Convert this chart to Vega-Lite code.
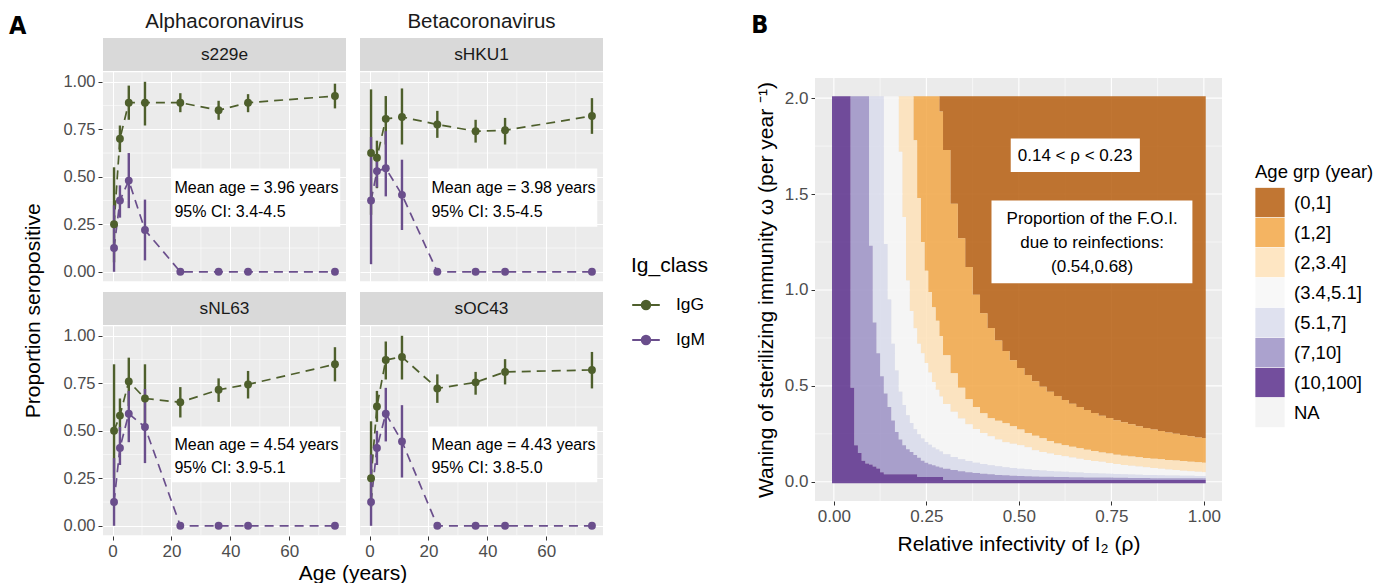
{
"$schema": "https://vega.github.io/schema/vega-lite/v6.json",
"background": "white",
"padding": {"left": 8, "top": 11, "right": 0, "bottom": 0},
"title": {"text": "A", "anchor": "start", "font": "Liberation Sans Narrow, DejaVu Sans Condensed, Liberation Sans", "fontSize": 25, "fontWeight": "bold", "offset": -47, "dx": -14, "baseline": "alphabetic", "color": "#000000"},
"config": {
  "font": "Liberation Sans",
  "view": {"fill": "#ebebeb", "stroke": null},
  "axis": {"domain": false, "gridColor": "#ffffff", "gridWidth": 1.1, "tickColor": "#333333", "tickSize": 4, "tickWidth": 1, "labelColor": "#4d4d4d", "labelFontSize": 16.5, "labelPadding": 3, "titleFontSize": 21, "titleFontWeight": "normal", "titleColor": "#000000"},
  "legend": {"titleFontWeight": "normal", "titleColor": "#000000", "labelColor": "#000000"},
  "title": {"fontWeight": "normal", "color": "#000000"}
},
"datasets": {
  "aset": [
    {"g":"Alphacoronavirus","r":"1","k":"gx","gv":10},{"g":"Alphacoronavirus","r":"1","k":"gx","gv":30},{"g":"Alphacoronavirus","r":"1","k":"gx","gv":50},{"g":"Alphacoronavirus","r":"1","k":"gx","gv":70},
    {"g":"Alphacoronavirus","r":"1","k":"gy","gv":0.125},{"g":"Alphacoronavirus","r":"1","k":"gy","gv":0.375},{"g":"Alphacoronavirus","r":"1","k":"gy","gv":0.625},{"g":"Alphacoronavirus","r":"1","k":"gy","gv":0.875},
    {"g":"Betacoronavirus","r":"1","k":"gx","gv":10},{"g":"Betacoronavirus","r":"1","k":"gx","gv":30},{"g":"Betacoronavirus","r":"1","k":"gx","gv":50},{"g":"Betacoronavirus","r":"1","k":"gx","gv":70},
    {"g":"Betacoronavirus","r":"1","k":"gy","gv":0.125},{"g":"Betacoronavirus","r":"1","k":"gy","gv":0.375},{"g":"Betacoronavirus","r":"1","k":"gy","gv":0.625},{"g":"Betacoronavirus","r":"1","k":"gy","gv":0.875},
    {"g":"Alphacoronavirus","r":"2","k":"gx","gv":10},{"g":"Alphacoronavirus","r":"2","k":"gx","gv":30},{"g":"Alphacoronavirus","r":"2","k":"gx","gv":50},{"g":"Alphacoronavirus","r":"2","k":"gx","gv":70},
    {"g":"Alphacoronavirus","r":"2","k":"gy","gv":0.125},{"g":"Alphacoronavirus","r":"2","k":"gy","gv":0.375},{"g":"Alphacoronavirus","r":"2","k":"gy","gv":0.625},{"g":"Alphacoronavirus","r":"2","k":"gy","gv":0.875},
    {"g":"Betacoronavirus","r":"2","k":"gx","gv":10},{"g":"Betacoronavirus","r":"2","k":"gx","gv":30},{"g":"Betacoronavirus","r":"2","k":"gx","gv":50},{"g":"Betacoronavirus","r":"2","k":"gx","gv":70},
    {"g":"Betacoronavirus","r":"2","k":"gy","gv":0.125},{"g":"Betacoronavirus","r":"2","k":"gy","gv":0.375},{"g":"Betacoronavirus","r":"2","k":"gy","gv":0.625},{"g":"Betacoronavirus","r":"2","k":"gy","gv":0.875},

    {"g":"Alphacoronavirus","r":"1","k":"o","c":"IgG","a":0.5,"p":0.25,"lo":0.05,"hi":0.55},
    {"g":"Alphacoronavirus","r":"1","k":"o","c":"IgG","a":2.5,"p":0.70,"lo":0.63,"hi":0.77},
    {"g":"Alphacoronavirus","r":"1","k":"o","c":"IgG","a":5.5,"p":0.89,"lo":0.80,"hi":0.98},
    {"g":"Alphacoronavirus","r":"1","k":"o","c":"IgG","a":11,"p":0.89,"lo":0.77,"hi":1.0},
    {"g":"Alphacoronavirus","r":"1","k":"o","c":"IgG","a":23,"p":0.89,"lo":0.84,"hi":0.94},
    {"g":"Alphacoronavirus","r":"1","k":"o","c":"IgG","a":36,"p":0.85,"lo":0.80,"hi":0.90},
    {"g":"Alphacoronavirus","r":"1","k":"o","c":"IgG","a":46,"p":0.89,"lo":0.84,"hi":0.935},
    {"g":"Alphacoronavirus","r":"1","k":"o","c":"IgG","a":75.5,"p":0.925,"lo":0.86,"hi":0.99},
    {"g":"Alphacoronavirus","r":"1","k":"o","c":"IgM","a":0.5,"p":0.125,"lo":0,"hi":0.35},
    {"g":"Alphacoronavirus","r":"1","k":"o","c":"IgM","a":2.5,"p":0.375,"lo":0.285,"hi":0.455},
    {"g":"Alphacoronavirus","r":"1","k":"o","c":"IgM","a":5.5,"p":0.48,"lo":0.335,"hi":0.625},
    {"g":"Alphacoronavirus","r":"1","k":"o","c":"IgM","a":11,"p":0.22,"lo":0.06,"hi":0.38},
    {"g":"Alphacoronavirus","r":"1","k":"o","c":"IgM","a":23,"p":0,"lo":0,"hi":0},
    {"g":"Alphacoronavirus","r":"1","k":"o","c":"IgM","a":36,"p":0,"lo":0,"hi":0},
    {"g":"Alphacoronavirus","r":"1","k":"o","c":"IgM","a":46,"p":0,"lo":0,"hi":0},
    {"g":"Alphacoronavirus","r":"1","k":"o","c":"IgM","a":75.5,"p":0,"lo":0,"hi":0},

    {"g":"Betacoronavirus","r":"1","k":"o","c":"IgG","a":0.5,"p":0.625,"lo":0.30,"hi":0.96},
    {"g":"Betacoronavirus","r":"1","k":"o","c":"IgG","a":2.5,"p":0.60,"lo":0.44,"hi":0.69},
    {"g":"Betacoronavirus","r":"1","k":"o","c":"IgG","a":5.5,"p":0.805,"lo":0.67,"hi":0.925},
    {"g":"Betacoronavirus","r":"1","k":"o","c":"IgG","a":11,"p":0.815,"lo":0.67,"hi":0.965},
    {"g":"Betacoronavirus","r":"1","k":"o","c":"IgG","a":23,"p":0.775,"lo":0.705,"hi":0.847},
    {"g":"Betacoronavirus","r":"1","k":"o","c":"IgG","a":36,"p":0.74,"lo":0.68,"hi":0.80},
    {"g":"Betacoronavirus","r":"1","k":"o","c":"IgG","a":46,"p":0.745,"lo":0.67,"hi":0.81},
    {"g":"Betacoronavirus","r":"1","k":"o","c":"IgG","a":75.5,"p":0.82,"lo":0.726,"hi":0.914},
    {"g":"Betacoronavirus","r":"1","k":"o","c":"IgM","a":0.5,"p":0.375,"lo":0.04,"hi":0.71},
    {"g":"Betacoronavirus","r":"1","k":"o","c":"IgM","a":2.5,"p":0.53,"lo":0.444,"hi":0.617},
    {"g":"Betacoronavirus","r":"1","k":"o","c":"IgM","a":5.5,"p":0.545,"lo":0.397,"hi":0.74},
    {"g":"Betacoronavirus","r":"1","k":"o","c":"IgM","a":11,"p":0.405,"lo":0.22,"hi":0.59},
    {"g":"Betacoronavirus","r":"1","k":"o","c":"IgM","a":23,"p":0,"lo":0,"hi":0},
    {"g":"Betacoronavirus","r":"1","k":"o","c":"IgM","a":36,"p":0,"lo":0,"hi":0},
    {"g":"Betacoronavirus","r":"1","k":"o","c":"IgM","a":46,"p":0,"lo":0,"hi":0},
    {"g":"Betacoronavirus","r":"1","k":"o","c":"IgM","a":75.5,"p":0,"lo":0,"hi":0},

    {"g":"Alphacoronavirus","r":"2","k":"o","c":"IgG","a":0.5,"p":0.50,"lo":0.25,"hi":0.85},
    {"g":"Alphacoronavirus","r":"2","k":"o","c":"IgG","a":2.5,"p":0.58,"lo":0.497,"hi":0.67},
    {"g":"Alphacoronavirus","r":"2","k":"o","c":"IgG","a":5.5,"p":0.76,"lo":0.63,"hi":0.885},
    {"g":"Alphacoronavirus","r":"2","k":"o","c":"IgG","a":11,"p":0.67,"lo":0.50,"hi":0.85},
    {"g":"Alphacoronavirus","r":"2","k":"o","c":"IgG","a":23,"p":0.65,"lo":0.57,"hi":0.73},
    {"g":"Alphacoronavirus","r":"2","k":"o","c":"IgG","a":36,"p":0.716,"lo":0.652,"hi":0.776},
    {"g":"Alphacoronavirus","r":"2","k":"o","c":"IgG","a":46,"p":0.744,"lo":0.67,"hi":0.815},
    {"g":"Alphacoronavirus","r":"2","k":"o","c":"IgG","a":75.5,"p":0.85,"lo":0.76,"hi":0.94},
    {"g":"Alphacoronavirus","r":"2","k":"o","c":"IgM","a":0.5,"p":0.125,"lo":0,"hi":0.356},
    {"g":"Alphacoronavirus","r":"2","k":"o","c":"IgM","a":2.5,"p":0.41,"lo":0.32,"hi":0.52},
    {"g":"Alphacoronavirus","r":"2","k":"o","c":"IgM","a":5.5,"p":0.59,"lo":0.44,"hi":0.71},
    {"g":"Alphacoronavirus","r":"2","k":"o","c":"IgM","a":11,"p":0.52,"lo":0.33,"hi":0.72},
    {"g":"Alphacoronavirus","r":"2","k":"o","c":"IgM","a":23,"p":0,"lo":0,"hi":0},
    {"g":"Alphacoronavirus","r":"2","k":"o","c":"IgM","a":36,"p":0,"lo":0,"hi":0},
    {"g":"Alphacoronavirus","r":"2","k":"o","c":"IgM","a":46,"p":0,"lo":0,"hi":0},
    {"g":"Alphacoronavirus","r":"2","k":"o","c":"IgM","a":75.5,"p":0,"lo":0,"hi":0},

    {"g":"Betacoronavirus","r":"2","k":"o","c":"IgG","a":0.5,"p":0.25,"lo":0.10,"hi":0.55},
    {"g":"Betacoronavirus","r":"2","k":"o","c":"IgG","a":2.5,"p":0.628,"lo":0.547,"hi":0.71},
    {"g":"Betacoronavirus","r":"2","k":"o","c":"IgG","a":5.5,"p":0.873,"lo":0.77,"hi":0.97},
    {"g":"Betacoronavirus","r":"2","k":"o","c":"IgG","a":11,"p":0.889,"lo":0.77,"hi":1.0},
    {"g":"Betacoronavirus","r":"2","k":"o","c":"IgG","a":23,"p":0.723,"lo":0.647,"hi":0.797},
    {"g":"Betacoronavirus","r":"2","k":"o","c":"IgG","a":36,"p":0.755,"lo":0.69,"hi":0.81},
    {"g":"Betacoronavirus","r":"2","k":"o","c":"IgG","a":46,"p":0.81,"lo":0.744,"hi":0.877},
    {"g":"Betacoronavirus","r":"2","k":"o","c":"IgG","a":75.5,"p":0.82,"lo":0.723,"hi":0.915},
    {"g":"Betacoronavirus","r":"2","k":"o","c":"IgM","a":0.5,"p":0.125,"lo":0,"hi":0.375},
    {"g":"Betacoronavirus","r":"2","k":"o","c":"IgM","a":2.5,"p":0.41,"lo":0.32,"hi":0.50},
    {"g":"Betacoronavirus","r":"2","k":"o","c":"IgM","a":5.5,"p":0.59,"lo":0.444,"hi":0.726},
    {"g":"Betacoronavirus","r":"2","k":"o","c":"IgM","a":11,"p":0.444,"lo":0.254,"hi":0.635},
    {"g":"Betacoronavirus","r":"2","k":"o","c":"IgM","a":23,"p":0,"lo":0,"hi":0},
    {"g":"Betacoronavirus","r":"2","k":"o","c":"IgM","a":36,"p":0,"lo":0,"hi":0},
    {"g":"Betacoronavirus","r":"2","k":"o","c":"IgM","a":46,"p":0,"lo":0,"hi":0},
    {"g":"Betacoronavirus","r":"2","k":"o","c":"IgM","a":75.5,"p":0,"lo":0,"hi":0},

    {"g":"Alphacoronavirus","r":"1","k":"lab","v":"s229e","x1":20.2,"x2":77.3,"y1":0.237,"y2":0.544,"tx":21,"ty1":0.416,"ty2":0.288,"t1":"Mean age = 3.96 years","t2":"95% CI: 3.4-4.5"},
    {"g":"Betacoronavirus","r":"1","k":"lab","v":"sHKU1","x1":20.2,"x2":77.3,"y1":0.237,"y2":0.544,"tx":21,"ty1":0.416,"ty2":0.288,"t1":"Mean age = 3.98 years","t2":"95% CI: 3.5-4.5"},
    {"g":"Alphacoronavirus","r":"2","k":"lab","v":"sNL63","x1":20.2,"x2":77.3,"y1":0.229,"y2":0.523,"tx":21,"ty1":0.40,"ty2":0.277,"t1":"Mean age = 4.54 years","t2":"95% CI: 3.9-5.1"},
    {"g":"Betacoronavirus","r":"2","k":"lab","v":"sOC43","x1":20.2,"x2":77.3,"y1":0.229,"y2":0.523,"tx":21,"ty1":0.40,"ty2":0.277,"t1":"Mean age = 4.43 years","t2":"95% CI: 3.8-5.0"}
  ],
  "heat": [
    {"r0":-0.005,"f1":2.01,"f2":2.01,"f3":2.01,"f4":2.01,"f5":2.01,"f6":2.01},
    {"r0":0.045,"f1":2.01,"f2":2.01,"f3":2.01,"f4":2.01,"f5":2.01,"f6":0.49},
    {"r0":0.055,"f1":2.01,"f2":2.01,"f3":2.01,"f4":2.01,"f5":2.01,"f6":0.19},
    {"r0":0.065,"f1":2.01,"f2":2.01,"f3":2.01,"f4":2.01,"f5":2.01,"f6":0.15},
    {"r0":0.075,"f1":2.01,"f2":2.01,"f3":2.01,"f4":2.01,"f5":2.01,"f6":0.11},
    {"r0":0.085,"f1":2.01,"f2":2.01,"f3":2.01,"f4":2.01,"f5":2.01,"f6":0.095},
    {"r0":0.095,"f1":2.01,"f2":2.01,"f3":2.01,"f4":2.01,"f5":1.23,"f6":0.09},
    {"r0":0.105,"f1":2.01,"f2":2.01,"f3":2.01,"f4":2.01,"f5":0.83,"f6":0.08},
    {"r0":0.115,"f1":2.01,"f2":2.01,"f3":2.01,"f4":2.01,"f5":0.67,"f6":0.07},
    {"r0":0.125,"f1":2.01,"f2":2.01,"f3":2.01,"f4":2.01,"f5":0.55,"f6":0.05},
    {"r0":0.135,"f1":2.01,"f2":2.01,"f3":2.01,"f4":1.24,"f5":0.46,"f6":0.04},
    {"r0":0.145,"f1":2.01,"f2":2.01,"f3":2.01,"f4":0.95,"f5":0.39,"f6":0.04},
    {"r0":0.155,"f1":2.01,"f2":2.01,"f3":2.01,"f4":0.72,"f5":0.32,"f6":0.04},
    {"r0":0.165,"f1":2.01,"f2":2.01,"f3":2.01,"f4":0.58,"f5":0.26,"f6":0.04},
    {"r0":0.175,"f1":2.01,"f2":2.01,"f3":1.72,"f4":0.47,"f5":0.22,"f6":0.04},
    {"r0":0.185,"f1":2.01,"f2":2.01,"f3":1.38,"f4":0.40,"f5":0.19,"f6":0.04},
    {"r0":0.195,"f1":2.01,"f2":2.01,"f3":1.05,"f4":0.347,"f5":0.17,"f6":0.04},
    {"r0":0.205,"f1":2.01,"f2":2.01,"f3":0.89,"f4":0.306,"f5":0.155,"f6":0.04},
    {"r0":0.215,"f1":2.01,"f2":1.78,"f3":0.80,"f4":0.274,"f5":0.14,"f6":0.04},
    {"r0":0.225,"f1":2.01,"f2":1.48,"f3":0.72,"f4":0.248,"f5":0.125,"f6":0.025},
    {"r0":0.235,"f1":2.01,"f2":1.25,"f3":0.67,"f4":0.226,"f5":0.11,"f6":0.025},
    {"r0":0.245,"f1":2.01,"f2":1.10,"f3":0.62,"f4":0.208,"f5":0.10,"f6":0.025},
    {"r0":0.255,"f1":2.01,"f2":0.99,"f3":0.57,"f4":0.193,"f5":0.092,"f6":0.025},
    {"r0":0.265,"f1":2.01,"f2":0.91,"f3":0.52,"f4":0.179,"f5":0.086,"f6":0.025},
    {"r0":0.275,"f1":2.01,"f2":0.84,"f3":0.48,"f4":0.168,"f5":0.08,"f6":0.025},
    {"r0":0.285,"f1":1.93,"f2":0.76,"f3":0.445,"f4":0.158,"f5":0.075,"f6":0.025},
    {"r0":0.295,"f1":1.73,"f2":0.66,"f3":0.405,"f4":0.144,"f5":0.068,"f6":0.01},
    {"r0":0.315,"f1":1.45,"f2":0.566,"f3":0.365,"f4":0.13,"f5":0.061,"f6":0.01},
    {"r0":0.335,"f1":1.27,"f2":0.49,"f3":0.33,"f4":0.118,"f5":0.055,"f6":0.01},
    {"r0":0.355,"f1":1.12,"f2":0.43,"f3":0.30,"f4":0.108,"f5":0.05,"f6":0.01},
    {"r0":0.375,"f1":0.975,"f2":0.39,"f3":0.275,"f4":0.10,"f5":0.046,"f6":0.01},
    {"r0":0.395,"f1":0.879,"f2":0.357,"f3":0.255,"f4":0.093,"f5":0.042,"f6":0.01},
    {"r0":0.415,"f1":0.802,"f2":0.332,"f3":0.237,"f4":0.087,"f5":0.039,"f6":0.01},
    {"r0":0.435,"f1":0.737,"f2":0.318,"f3":0.22,"f4":0.081,"f5":0.036,"f6":0.01},
    {"r0":0.455,"f1":0.682,"f2":0.305,"f3":0.206,"f4":0.076,"f5":0.034,"f6":0.01},
    {"r0":0.475,"f1":0.634,"f2":0.29,"f3":0.198,"f4":0.072,"f5":0.032,"f6":0.01},
    {"r0":0.495,"f1":0.593,"f2":0.273,"f3":0.19,"f4":0.068,"f5":0.03,"f6":0.01},
    {"r0":0.515,"f1":0.557,"f2":0.255,"f3":0.18,"f4":0.065,"f5":0.029,"f6":0.01},
    {"r0":0.535,"f1":0.524,"f2":0.24,"f3":0.165,"f4":0.062,"f5":0.028,"f6":0.01},
    {"r0":0.555,"f1":0.496,"f2":0.227,"f3":0.155,"f4":0.059,"f5":0.027,"f6":0.01},
    {"r0":0.575,"f1":0.47,"f2":0.213,"f3":0.148,"f4":0.057,"f5":0.026,"f6":0.01},
    {"r0":0.595,"f1":0.447,"f2":0.20,"f3":0.14,"f4":0.054,"f5":0.025,"f6":0.01},
    {"r0":0.615,"f1":0.426,"f2":0.19,"f3":0.133,"f4":0.052,"f5":0.025,"f6":0.01},
    {"r0":0.635,"f1":0.407,"f2":0.183,"f3":0.127,"f4":0.05,"f5":0.024,"f6":0.01},
    {"r0":0.655,"f1":0.39,"f2":0.175,"f3":0.12,"f4":0.048,"f5":0.024,"f6":0.01},
    {"r0":0.675,"f1":0.374,"f2":0.167,"f3":0.114,"f4":0.046,"f5":0.023,"f6":0.01},
    {"r0":0.695,"f1":0.359,"f2":0.16,"f3":0.109,"f4":0.045,"f5":0.023,"f6":0.01},
    {"r0":0.715,"f1":0.345,"f2":0.153,"f3":0.104,"f4":0.043,"f5":0.022,"f6":0.01},
    {"r0":0.735,"f1":0.333,"f2":0.147,"f3":0.098,"f4":0.042,"f5":0.022,"f6":0.01},
    {"r0":0.755,"f1":0.321,"f2":0.141,"f3":0.093,"f4":0.041,"f5":0.021,"f6":0.01},
    {"r0":0.775,"f1":0.31,"f2":0.136,"f3":0.088,"f4":0.039,"f5":0.021,"f6":0.01},
    {"r0":0.795,"f1":0.30,"f2":0.132,"f3":0.084,"f4":0.038,"f5":0.02,"f6":0.01},
    {"r0":0.815,"f1":0.29,"f2":0.128,"f3":0.08,"f4":0.037,"f5":0.02,"f6":0.01},
    {"r0":0.835,"f1":0.281,"f2":0.124,"f3":0.076,"f4":0.036,"f5":0.02,"f6":0.01},
    {"r0":0.855,"f1":0.273,"f2":0.12,"f3":0.072,"f4":0.035,"f5":0.019,"f6":0.01},
    {"r0":0.875,"f1":0.265,"f2":0.117,"f3":0.068,"f4":0.034,"f5":0.019,"f6":0.01},
    {"r0":0.895,"f1":0.257,"f2":0.114,"f3":0.064,"f4":0.033,"f5":0.019,"f6":0.01},
    {"r0":0.915,"f1":0.25,"f2":0.111,"f3":0.061,"f4":0.0325,"f5":0.018,"f6":0.01},
    {"r0":0.935,"f1":0.244,"f2":0.108,"f3":0.058,"f4":0.032,"f5":0.018,"f6":0.01},
    {"r0":0.955,"f1":0.237,"f2":0.105,"f3":0.055,"f4":0.031,"f5":0.018,"f6":0.01},
    {"r0":0.975,"f1":0.231,"f2":0.102,"f3":0.052,"f4":0.03,"f5":0.018,"f6":0.01},
    {"r0":0.995,"f1":0.228,"f2":0.10,"f3":0.05,"f4":0.03,"f5":0.018,"f6":0.01},
    {"r0":1.005,"f1":0.228,"f2":0.10,"f3":0.05,"f4":0.03,"f5":0.018,"f6":0.01}
  ],
  "bmx": [{"v":0},{"v":0.25},{"v":0.5},{"v":0.75},{"v":1}],
  "bmy": [{"v":0},{"v":0.5},{"v":1},{"v":1.5},{"v":2}],
  "bgx": [{"v":0.125},{"v":0.375},{"v":0.625},{"v":0.875}],
  "bgy": [{"v":0.25},{"v":0.75},{"v":1.25},{"v":1.75}],
  "bbox": [{"x1":0.478,"x2":0.827,"y1":1.615,"y2":1.79},{"x1":0.426,"x2":0.969,"y1":1.035,"y2":1.467}],
  "btxt": [{"tx":0.652,"ty":1.70,"t":"0.14 < ρ < 0.23"},{"tx":0.698,"ty":1.368,"t":"Proportion of the F.O.I."},{"tx":0.698,"ty":1.243,"t":"due to reinfections:"},{"tx":0.698,"ty":1.121,"t":"(0.54,0.68)"}]
},
"resolve": {"scale": {"color": "independent", "x": "independent", "y": "independent"}},
"spacing": 42,
"hconcat": [
  {
    "name": "pa",
    "title": {"text": "Proportion seropositive", "orient": "left", "anchor": "middle", "fontSize": 21, "offset": 33, "dy": 14, "dx": -13},
    "data": {"name": "aset"},
    "facet": {
      "column": {"field": "g", "type": "nominal", "header": {"title": "Age (years)", "titleOrient": "bottom", "titleFontSize": 21, "titleFontWeight": "normal", "titleColor": "#000000", "titlePadding": -6, "labelFontSize": 20.5, "labelColor": "#1a1a1a", "labelPadding": 5, "labelOrient": "top"}},
      "row": {"field": "r", "type": "nominal", "header": {"title": null, "labels": false}}
    },
    "spacing": {"row": 9, "column": 12},
    "spec": {
      "width": 243,
      "height": 243.3,
      "layer": [
        {"transform": [{"filter": "datum.k==='gx'"}], "mark": {"type": "rule", "color": "#ffffff", "strokeWidth": 0.55},
         "encoding": {"x": {"field": "gv", "type": "quantitative", "scale": {"domain": [-3.25, 79.25], "nice": false, "zero": false}, "axis": {"values": [0, 20, 40, 60], "title": null, "labelFontSize": 17}}}},
        {"transform": [{"filter": "datum.k==='gy'"}], "mark": {"type": "rule", "color": "#ffffff", "strokeWidth": 0.55},
         "encoding": {"y": {"field": "gv", "type": "quantitative", "scale": {"domain": [-0.05, 1.2305], "nice": false, "zero": false}, "axis": {"values": [0, 0.25, 0.5, 0.75, 1], "format": ".2f", "title": null}}}},
        {"transform": [{"filter": "datum.k==='o'"}], "mark": {"type": "line", "strokeDash": [9, 6], "strokeWidth": 1.7},
         "encoding": {"x": {"field": "a", "type": "quantitative"}, "y": {"field": "p", "type": "quantitative"},
          "color": {"field": "c", "type": "nominal", "scale": {"domain": ["IgG", "IgM"], "range": ["#4e5f2c", "#6a4e8c"]},
           "legend": {"title": "Ig_class", "orient": "none", "direction": "vertical", "legendX": 528, "legendY": 217, "titleFontSize": 21, "labelFontSize": 17.4, "titlePadding": 14,
            "symbolType": "M-1,0H1M-0.3,0A0.3,0.3,0,1,1,0.3,0A0.3,0.3,0,1,1,-0.3,0Z", "symbolSize": 760, "symbolStrokeWidth": 2.2, "rowPadding": 11, "labelOffset": 15,
            "encode": {"symbols": {"update": {"fill": {"scale": "pa_color", "field": "value"}, "stroke": {"scale": "pa_color", "field": "value"}, "strokeWidth": {"value": 2.2}, "strokeDash": {"value": []}, "opacity": {"value": 1}}}}}}}},
        {"transform": [{"filter": "datum.k==='o'"}], "mark": {"type": "rule", "strokeWidth": 2.4},
         "encoding": {"x": {"field": "a", "type": "quantitative"}, "y": {"field": "lo", "type": "quantitative"}, "y2": {"field": "hi"}, "color": {"field": "c", "type": "nominal"}}},
        {"transform": [{"filter": "datum.k==='o'"}], "mark": {"type": "point", "filled": true, "size": 62, "opacity": 1},
         "encoding": {"x": {"field": "a", "type": "quantitative"}, "y": {"field": "p", "type": "quantitative"}, "color": {"field": "c", "type": "nominal"}}},
        {"transform": [{"filter": "datum.k==='lab'"}], "mark": {"type": "rect", "fill": "#ffffff"},
         "encoding": {"x": {"field": "x1", "type": "quantitative"}, "x2": {"field": "x2"}, "y": {"field": "y1", "type": "quantitative"}, "y2": {"field": "y2"}}},
        {"transform": [{"filter": "datum.k==='lab'"}], "mark": {"type": "text", "align": "left", "baseline": "alphabetic", "fontSize": 16, "color": "#000000"},
         "encoding": {"x": {"field": "tx", "type": "quantitative"}, "y": {"field": "ty1", "type": "quantitative"}, "text": {"field": "t1"}}},
        {"transform": [{"filter": "datum.k==='lab'"}], "mark": {"type": "text", "align": "left", "baseline": "alphabetic", "fontSize": 16, "color": "#000000"},
         "encoding": {"x": {"field": "tx", "type": "quantitative"}, "y": {"field": "ty2", "type": "quantitative"}, "text": {"field": "t2"}}},
        {"transform": [{"filter": "datum.k==='lab'"}], "mark": {"type": "rect", "fill": "#ffffff"},
         "encoding": {"x": {"datum": -3.25}, "x2": {"datum": 79.25}, "y": {"datum": 1.05}, "y2": {"datum": 1.057}}},
        {"transform": [{"filter": "datum.k==='lab'"}], "mark": {"type": "rect", "fill": "#d9d9d9"},
         "encoding": {"x": {"datum": -3.25}, "x2": {"datum": 79.25}, "y": {"datum": 1.057}, "y2": {"datum": 1.2305}}},
        {"transform": [{"filter": "datum.k==='lab'"}], "mark": {"type": "text", "fontSize": 17.3, "color": "#1a1a1a", "baseline": "middle"},
         "encoding": {"x": {"datum": 38}, "y": {"datum": 1.1435}, "text": {"field": "v"}}}
      ]
    }
  },
  {
    "name": "pb",
    "width": 407,
    "height": 463,
    "view": {"fill": null, "stroke": null},
    "title": {"text": "B", "anchor": "start", "font": "Liberation Sans Narrow, DejaVu Sans Condensed, Liberation Sans", "fontSize": 25, "fontWeight": "bold", "offset": -21, "dx": -4, "baseline": "alphabetic"},
    "layer": [
      {"data": {"values": [{}]}, "mark": {"type": "rect", "fill": "#ebebeb"},
       "encoding": {
         "x": {"datum": -0.051, "type": "quantitative", "scale": {"domain": [-0.051, 1.049], "nice": false, "zero": false},
          "axis": {"values": [0, 0.25, 0.5, 0.75, 1], "format": ".2f", "grid": false, "title": "Relative infectivity of I₂ (ρ)", "labelFontSize": 17, "titlePadding": 9}},
         "x2": {"datum": 1.049},
         "y": {"datum": -0.1, "type": "quantitative", "scale": {"domain": [-0.1, 2.3135], "nice": false, "zero": false},
          "axis": {"values": [0, 0.5, 1, 1.5, 2], "format": ".1f", "grid": false, "title": "Waning of sterilizing immunity ω (per year ⁻¹)", "labelFontSize": 17, "titlePadding": 8, "titleY": 251.5}},
         "y2": {"datum": 2.105}}},
      {"data": {"name": "bmx"}, "mark": {"type": "rule", "color": "#ffffff", "strokeWidth": 1.1}, "encoding": {"x": {"field": "v", "type": "quantitative"}}},
      {"data": {"name": "bmy"}, "mark": {"type": "rule", "color": "#ffffff", "strokeWidth": 1.1}, "encoding": {"y": {"field": "v", "type": "quantitative"}}},
      {"data": {"name": "bgx"}, "mark": {"type": "rule", "color": "#ffffff", "strokeWidth": 0.55}, "encoding": {"x": {"field": "v", "type": "quantitative"}}},
      {"data": {"name": "bgy"}, "mark": {"type": "rule", "color": "#ffffff", "strokeWidth": 0.55}, "encoding": {"y": {"field": "v", "type": "quantitative"}}},
      {"data": {"name": "heat"}, "mark": {"type": "area", "interpolate": "step-after", "opacity": 0.82},
       "encoding": {"x": {"field": "r0", "type": "quantitative"}, "y": {"field": "f1", "type": "quantitative"}, "y2": {"datum": 2.01},
        "color": {"datum": "(0,1]", "type": "nominal",
         "scale": {"domain": ["(0,1]", "(1,2]", "(2,3.4]", "(3.4,5.1]", "(5.1,7]", "(7,10]", "(10,100]", "NA"], "range": ["#b35806", "#f1a340", "#fee0b6", "#f7f7f7", "#d8daeb", "#998ec3", "#542788", "#f2f2f2"]},
         "legend": {"title": "Age grp (year)", "orient": "none", "direction": "vertical", "legendX": 440, "legendY": 125, "titleFontSize": 18.5, "labelFontSize": 18.5, "symbolType": "square", "symbolSize": 858, "symbolStrokeWidth": 0, "symbolOpacity": 1, "rowPadding": 0, "labelOffset": 9, "titlePadding": 6}}}},
      {"data": {"name": "heat"}, "mark": {"type": "area", "interpolate": "step-after", "opacity": 0.82},
       "encoding": {"x": {"field": "r0", "type": "quantitative"}, "y": {"field": "f2", "type": "quantitative"}, "y2": {"field": "f1"}, "color": {"datum": "(1,2]", "type": "nominal"}}},
      {"data": {"name": "heat"}, "mark": {"type": "area", "interpolate": "step-after", "opacity": 0.82},
       "encoding": {"x": {"field": "r0", "type": "quantitative"}, "y": {"field": "f3", "type": "quantitative"}, "y2": {"field": "f2"}, "color": {"datum": "(2,3.4]", "type": "nominal"}}},
      {"data": {"name": "heat"}, "mark": {"type": "area", "interpolate": "step-after", "opacity": 0.82},
       "encoding": {"x": {"field": "r0", "type": "quantitative"}, "y": {"field": "f4", "type": "quantitative"}, "y2": {"field": "f3"}, "color": {"datum": "(3.4,5.1]", "type": "nominal"}}},
      {"data": {"name": "heat"}, "mark": {"type": "area", "interpolate": "step-after", "opacity": 0.82},
       "encoding": {"x": {"field": "r0", "type": "quantitative"}, "y": {"field": "f5", "type": "quantitative"}, "y2": {"field": "f4"}, "color": {"datum": "(5.1,7]", "type": "nominal"}}},
      {"data": {"name": "heat"}, "mark": {"type": "area", "interpolate": "step-after", "opacity": 0.82},
       "encoding": {"x": {"field": "r0", "type": "quantitative"}, "y": {"field": "f6", "type": "quantitative"}, "y2": {"field": "f5"}, "color": {"datum": "(7,10]", "type": "nominal"}}},
      {"data": {"name": "heat"}, "mark": {"type": "area", "interpolate": "step-after", "opacity": 0.82},
       "encoding": {"x": {"field": "r0", "type": "quantitative"}, "y": {"field": "f6", "type": "quantitative"}, "y2": {"datum": -0.008}, "color": {"datum": "(10,100]", "type": "nominal"}}},
      {"data": {"name": "bbox"}, "mark": {"type": "rect", "fill": "#ffffff"},
       "encoding": {"x": {"field": "x1", "type": "quantitative"}, "x2": {"field": "x2"}, "y": {"field": "y1", "type": "quantitative"}, "y2": {"field": "y2"}}},
      {"data": {"name": "btxt"}, "mark": {"type": "text", "fontSize": 17, "color": "#000000", "baseline": "middle", "align": "center"},
       "encoding": {"x": {"field": "tx", "type": "quantitative"}, "y": {"field": "ty", "type": "quantitative"}, "text": {"field": "t"}}}
    ]
  }
]
}
